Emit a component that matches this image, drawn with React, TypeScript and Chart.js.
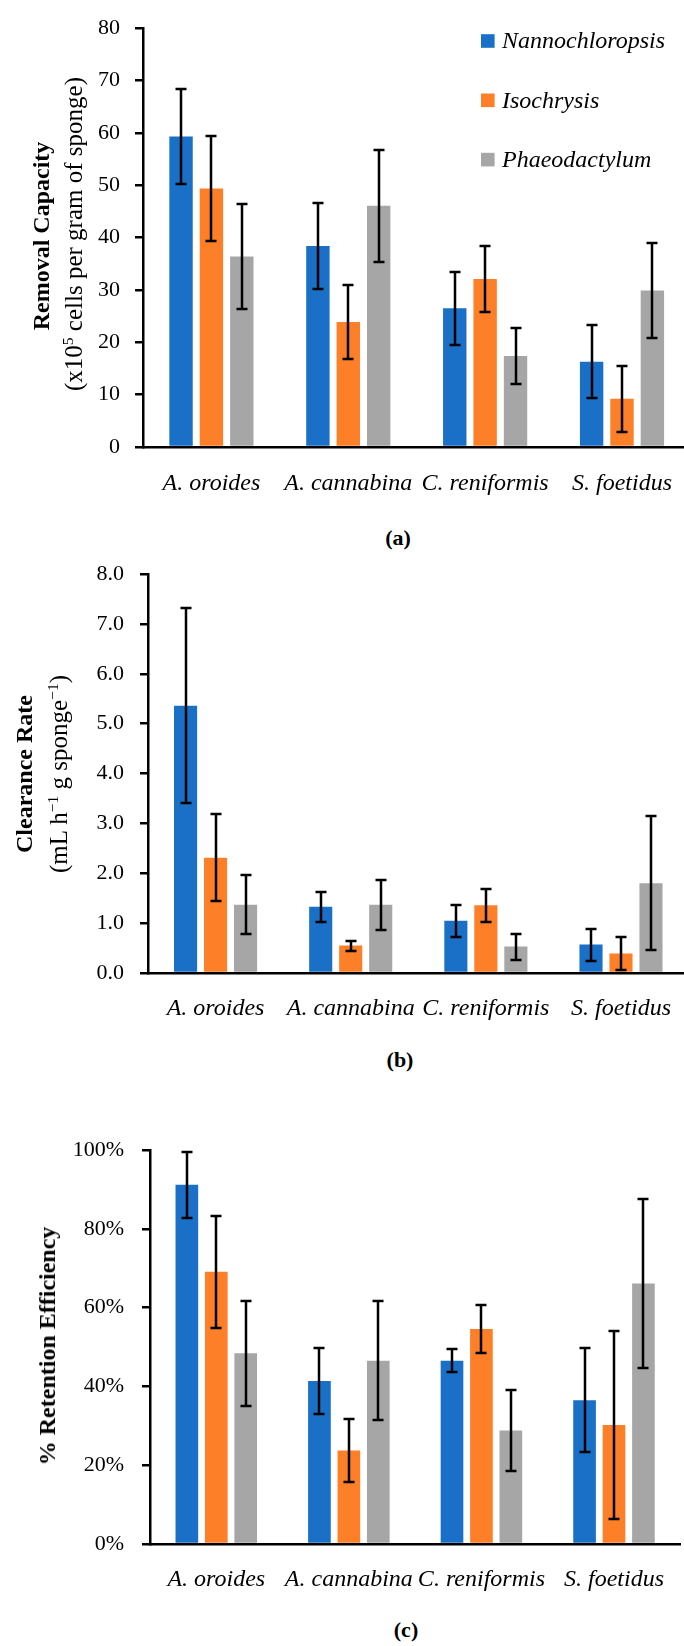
import { useEffect, useRef } from "react";
import { Chart, BarController, BarElement, CategoryScale, LinearScale } from "chart.js";
Chart.register(BarController, BarElement, CategoryScale, LinearScale);

const categories = ["A. oroides", "A. cannabina", "C. reniformis", "S. foetidus"];
const seriesNames = ["Nannochloropsis", "Isochrysis", "Phaeodactylum"];
const seriesColors = ["#1a70c6", "#fd7f28", "#a6a6a6"];

// (a) removal capacity, x10^5 cells per gram of sponge
const removalNanno = [59.3, 38.4, 26.5, 16.3];
const removalNannoErr = [9.1, 8.2, 7.0, 7.0];
const removalIso = [49.4, 23.9, 32.1, 9.2];
const removalIsoErr = [10.0, 7.0, 6.3, 6.3];
const removalPhaeo = [36.4, 46.1, 17.4, 29.9];
const removalPhaeoErr = [10.0, 10.7, 5.4, 9.1];

// (b) clearance rate, mL h-1 g sponge-1
const clearNanno = [5.36, 1.33, 1.05, 0.57];
const clearNannoErr = [1.95, 0.3, 0.32, 0.32];
const clearIso = [2.31, 0.55, 1.36, 0.39];
const clearIsoErr = [0.87, 0.1, 0.33, 0.33];
const clearPhaeo = [1.37, 1.37, 0.53, 1.8];
const clearPhaeoErr = [0.59, 0.5, 0.26, 1.34];

// (c) retention efficiency, %
const retNanno = [91.2, 41.4, 46.5, 36.5];
const retNannoErr = [8.4, 8.3, 2.9, 13.2];
const retIso = [69.1, 23.7, 54.6, 30.2];
const retIsoErr = [14.2, 8.0, 6.0, 23.8];
const retPhaeo = [48.4, 46.5, 28.8, 66.1];
const retPhaeoErr = [13.3, 15.1, 10.3, 21.5];

const serif = "'Liberation Serif', 'Times New Roman', serif";

const errorBars = {
  id: "errorBars",
  afterDatasetsDraw(chart: any) {
    const { ctx } = chart;
    const y = chart.scales.y;
    ctx.save();
    ctx.strokeStyle = "#000";
    ctx.lineWidth = 2.5;
    chart.data.datasets.forEach((ds: any, i: number) => {
      const meta = chart.getDatasetMeta(i);
      meta.data.forEach((bar: any, j: number) => {
        const v = ds.data[j];
        const e = ds.errors[j];
        const top = Math.round(y.getPixelForValue(v + e));
        const bot = Math.round(y.getPixelForValue(v - e));
        const x = Math.round(bar.x);
        ctx.beginPath();
        ctx.moveTo(x, top);
        ctx.lineTo(x, bot);
        ctx.moveTo(x - 5.5, top);
        ctx.lineTo(x + 5.5, top);
        ctx.moveTo(x - 5.5, bot);
        ctx.lineTo(x + 5.5, bot);
        ctx.stroke();
      });
    });
    ctx.restore();
  },
};

const boxLegend = {
  id: "boxLegend",
  afterDraw(chart: any) {
    const { ctx } = chart;
    ctx.save();
    ctx.font = `italic 24px ${serif}`;
    ctx.textBaseline = "middle";
    ctx.textAlign = "left";
    chart.data.datasets.forEach((ds: any, i: number) => {
      const cy = 41 + i * 59.3;
      ctx.fillStyle = ds.backgroundColor;
      ctx.fillRect(481, cy - 6.8, 13.6, 13.6);
      ctx.fillStyle = "#000";
      ctx.fillText(ds.label, 502, cy + 1);
    });
    ctx.restore();
  },
};

type PanelProps = {
  top: number;
  width: number;
  height: number;
  padTop: number;
  axisWidth: number;
  tickPad: number;
  labelPad: number;
  max: number;
  step: number;
  format: (v: number) => string;
  values: number[][];
  errors: number[][];
  legend?: boolean;
};

const Panel = (p: PanelProps) => {
  const ref = useRef<HTMLCanvasElement>(null);

  useEffect(() => {
    if (!ref.current) return;
    const chart = new Chart(ref.current, {
      type: "bar",
      data: {
        labels: categories,
        datasets: p.values.map((vals, i) => ({
          label: seriesNames[i],
          data: vals,
          errors: p.errors[i],
          backgroundColor: seriesColors[i],
          borderWidth: 0,
          categoryPercentage: 0.666,
          barPercentage: 0.77,
        })) as any,
      },
      options: {
        responsive: false,
        animation: false,
        events: [],
        layout: { padding: { top: p.padTop, left: 0, right: 0, bottom: 0 } },
        plugins: {
          legend: { display: false },
          tooltip: { enabled: false },
        },
        scales: {
          x: {
            grid: { display: false, drawTicks: false },
            border: { display: true, color: "#000", width: 2.5 },
            ticks: {
              color: "#000",
              padding: p.labelPad,
              font: { family: serif, size: 24, style: "italic" },
              maxRotation: 0,
              autoSkip: false,
            },
            afterFit: (s: any) => {
              s.height = 60;
            },
          },
          y: {
            min: 0,
            max: p.max,
            grid: {
              display: true,
              drawOnChartArea: false,
              drawTicks: true,
              tickLength: 8,
              color: "#000",
              lineWidth: 2.5,
            },
            border: { display: true, color: "#000", width: 2.5 },
            ticks: {
              stepSize: p.step,
              color: "#000",
              padding: p.tickPad,
              font: { family: serif, size: 22 },
              callback: (v: any) => p.format(Number(v)),
            },
            afterFit: (s: any) => {
              s.width = p.axisWidth;
            },
          },
        },
      },
      plugins: p.legend ? [errorBars, boxLegend] : [errorBars],
    });
    return () => chart.destroy();
  }, []);

  return (
    <canvas
      ref={ref}
      width={p.width}
      height={p.height}
      style={{ position: "absolute", left: 0, top: p.top, width: p.width, height: p.height }}
    />
  );
};

const rotated = (cx: number, cy: number, size: number, weight: string): React.CSSProperties => ({
  position: "absolute",
  left: cx,
  top: cy,
  transform: "translate(-50%, -50%) rotate(-90deg)",
  whiteSpace: "nowrap",
  fontFamily: serif,
  fontSize: size,
  fontWeight: weight as any,
  lineHeight: 1,
  color: "#000",
});

const panelLabel = (cx: number, cy: number): React.CSSProperties => ({
  position: "absolute",
  left: cx,
  top: cy,
  transform: "translate(-50%, -50%)",
  fontFamily: serif,
  fontSize: 22,
  fontWeight: "bold",
  lineHeight: 1,
  color: "#000",
});

const supStyle: React.CSSProperties = { fontSize: "0.62em", lineHeight: 0, verticalAlign: "0.55em" };

export default function App() {
  return (
    <div
      style={{
        position: "absolute",
        left: 0,
        top: 0,
        width: 684,
        height: 1646,
        overflow: "hidden",
        background: "#fff",
      }}
    >
      <Panel
        top={0}
        width={694}
        height={507}
        padTop={24}
        axisWidth={143}
        tickPad={15}
        labelPad={22}
        max={80}
        step={10}
        format={(v) => String(v)}
        values={[removalNanno, removalIso, removalPhaeo]}
        errors={[removalNannoErr, removalIsoErr, removalPhaeoErr]}
        legend
      />
      <div style={rotated(41, 236, 24, "bold")}>Removal Capacity</div>
      <div style={rotated(73, 234, 25, "normal")}>
        (x10<span style={supStyle}>5</span> cells per gram of sponge)
      </div>
      <div style={panelLabel(398, 538)}>(a)</div>

      <Panel
        top={520}
        width={692}
        height={513}
        padTop={54}
        axisWidth={148}
        tickPad={16}
        labelPad={21}
        max={8}
        step={1}
        format={(v) => v.toFixed(1)}
        values={[clearNanno, clearIso, clearPhaeo]}
        errors={[clearNannoErr, clearIsoErr, clearPhaeoErr]}
      />
      <div style={rotated(24, 774, 24, "bold")}>Clearance Rate</div>
      <div style={rotated(58, 774, 25, "normal")}>
        (mL h<span style={supStyle}>−1</span> g sponge<span style={supStyle}>−1</span>)
      </div>
      <div style={panelLabel(400, 1060)}>(b)</div>

      <Panel
        top={1100}
        width={685}
        height={504}
        padTop={50}
        axisWidth={150}
        tickPad={18}
        labelPad={21}
        max={100}
        step={20}
        format={(v) => `${v}%`}
        values={[retNanno, retIso, retPhaeo]}
        errors={[retNannoErr, retIsoErr, retPhaeoErr]}
      />
      <div style={rotated(47, 1346, 24, "bold")}>% Retention Efficiency</div>
      <div style={panelLabel(406, 1630)}>(c)</div>
    </div>
  );
}
